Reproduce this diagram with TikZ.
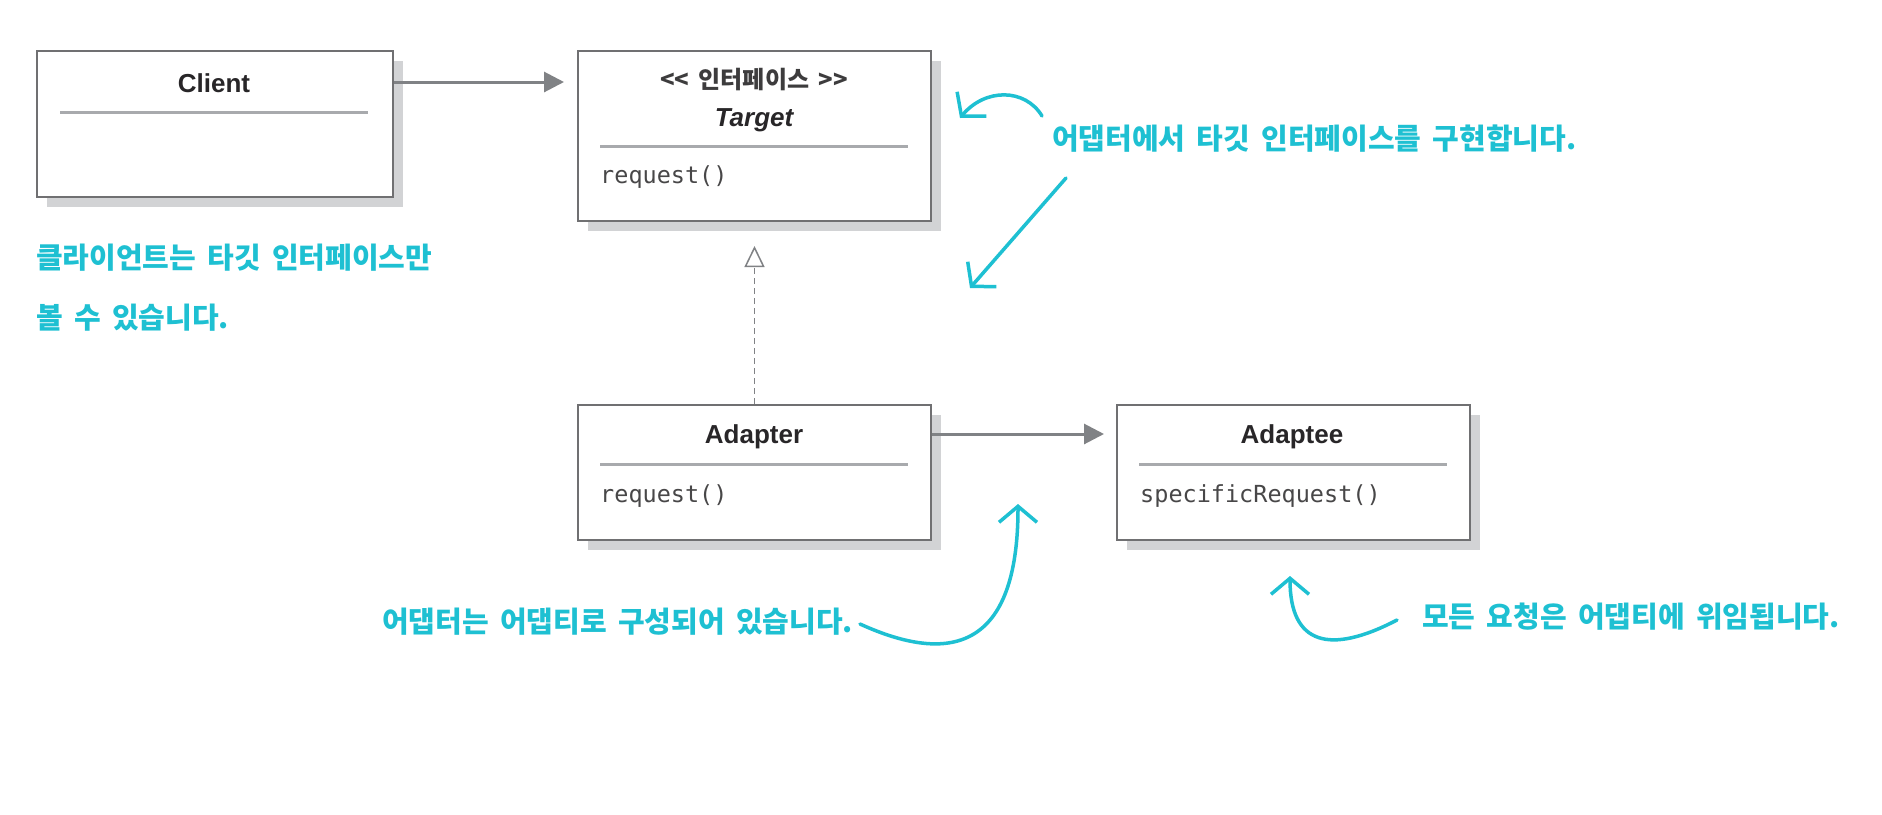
\documentclass[tikz,border=0pt]{standalone}
\usepackage{fontspec}
\setmainfont{Liberation Sans}
\setmonofont{DejaVu Sans Mono}
\newfontfamily\cjk{Noto Sans CJK KR}
\newfontfamily\cjknote[WordSpace=1.7]{Noto Sans CJK KR}
\usetikzlibrary{arrows.meta,shadows}
\definecolor{boxgray}{RGB}{112,112,114}
\definecolor{shadowgray}{RGB}{210,211,213}
\definecolor{divgray}{RGB}{168,170,173}
\definecolor{arrowgray}{RGB}{128,130,133}
\definecolor{txtdark}{RGB}{40,38,40}
\definecolor{notecyan}{RGB}{30,192,210}
\tikzset{
  umlbox/.style={draw=boxgray, line width=2pt, fill=white, rectangle, anchor=north west, inner sep=0pt,
    general shadow={fill=shadowgray, shadow xshift=10pt, shadow yshift=-10pt}},
  cname/.style={font=\fontsize{26}{30}\selectfont\bfseries, text=txtdark, inner sep=0pt},
  stereo/.style={font=\fontsize{24}{28}\selectfont\cjk\bfseries, text=txtdark!90, inner sep=0pt},
  meth/.style={font=\fontsize{23.5}{28}\selectfont\ttfamily, text=txtdark!85, anchor=west, inner sep=0pt},
  divider/.style={draw=divgray, line width=3pt},
  assoc/.style={draw=arrowgray, line width=3pt, -{Triangle[length=20pt,width=20pt]}},
  realize/.style={draw=arrowgray, line width=1.5pt, dash pattern=on 6pt off 4pt,
    -{Triangle[open,length=21pt,width=20pt,line width=1.5pt]}},
  notetext/.style={font=\fontsize{29}{34}\selectfont\cjknote\bfseries, text=notecyan, anchor=west, inner sep=0pt},
  note/.style={draw=notecyan, line width=3.5pt, line cap=round,
    -{Straight Barb[length=16pt,width=38pt,line width=3.5pt]}}
}
\begin{document}
\begin{tikzpicture}[x=1pt,y=-1pt]
\useasboundingbox[fill=white] (0,0) rectangle (1882,814);

% class boxes
\node[umlbox, minimum width=356pt, minimum height=146pt] (client) at (36,50) {};
\node[umlbox, minimum width=353pt, minimum height=170pt] (target) at (577,50) {};
\node[umlbox, minimum width=353pt, minimum height=135pt] (adapter) at (577,404) {};
\node[umlbox, minimum width=353pt, minimum height=135pt] (adaptee) at (1116,404) {};

% client contents
\node[cname] (clientname) at (214,83) {Client};
\draw[divider] (60,112) -- (368,112);

% target contents
\node[stereo] (targetstereo) at (754,80) {<< 인터페이스 >>};
\node[cname, font=\fontsize{26}{30}\selectfont\bfseries\itshape] (targetname) at (754,120) {Target};
\draw[divider] (600,146) -- (908,146);
\node[meth] (targetreq) at (600,177) {request()};

% adapter contents
\node[cname] (adaptername) at (754,437) {Adapter};
\draw[divider] (600,464) -- (908,464);
\node[meth] (adapterreq) at (600,496) {request()};

% adaptee contents
\node[cname] (adapteename) at (1292,437) {Adaptee};
\draw[divider] (1139,464) -- (1447,464);
\node[meth] (adapteereq) at (1140,496) {specificRequest()};

% connectors
\draw[assoc, shorten >=13pt] ([yshift=-32pt]client.north east) -- ([yshift=-32pt]target.north west);
\draw[assoc, shorten >=12pt] ([yshift=-30pt]adapter.north east) -- ([yshift=-30pt]adaptee.north west);
\draw[realize, shorten >=24pt] (adapter.north) -- (target.south);

% notes
\node[notetext] (note1) at (1052,139) {어댑터에서 타깃 인터페이스를 구현합니다.};
\node[notetext] (note2a) at (36,258) {클라이언트는 타깃 인터페이스만};
\node[notetext] (note2b) at (36,318) {볼 수 있습니다.};
\node[notetext] (note3) at (382,622) {어댑터는 어댑티로 구성되어 있습니다.};
\node[notetext] (note4) at (1422,617) {모든 요청은 어댑티에 위임됩니다.};

\coordinate (n1a) at (1042,116);
\coordinate (n1b) at (960,118);
\coordinate (n1c) at (1066,178);
\coordinate (n1d) at (970,288);
\coordinate (n3a) at (860,624);
\coordinate (n3b) at (1018,504);
\coordinate (n4a) at (1397,620);
\coordinate (n4b) at (1290,576);

\draw[note] (n1a) .. controls (1025,88) and (985,88) .. (n1b);
\draw[note] (n1c) -- (n1d);
\draw[note] (n3a) .. controls (950,665) and (1018,650) .. (n3b);
\draw[note] (n4a) .. controls (1330,655) and (1290,645) .. (n4b);
\end{tikzpicture}
\end{document}
